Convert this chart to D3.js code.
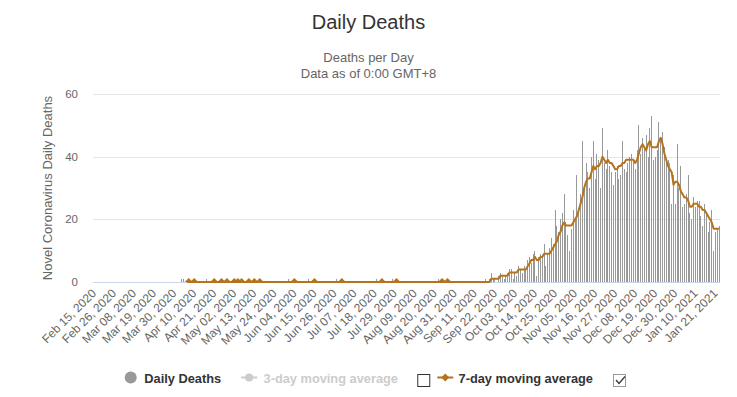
<!DOCTYPE html>
<html>
<head>
<meta charset="utf-8">
<script src="https://cdn.jsdelivr.net/npm/d3@7"></script>
<style>
  body { margin: 0; background: #fff; }
  svg { display: block; font-family: "Liberation Sans", Arial, sans-serif; }
</style>
</head>
<body>
<svg id="chart" width="737" height="397"></svg>
<script>
// ---- dati ----
const startDay = "2020-02-15";
const dayCount = 344;
const tickEvery = 11;
const tickLabels = [
  "Feb 15, 2020", "Feb 26, 2020", "Mar 08, 2020", "Mar 19, 2020", "Mar 30, 2020",
  "Apr 10, 2020", "Apr 21, 2020", "May 02, 2020", "May 13, 2020", "May 24, 2020",
  "Jun 04, 2020", "Jun 15, 2020", "Jun 26, 2020", "Jul 07, 2020", "Jul 18, 2020",
  "Jul 29, 2020", "Aug 09, 2020", "Aug 20, 2020", "Aug 31, 2020", "Sep 11, 2020",
  "Sep 22, 2020", "Oct 03, 2020", "Oct 14, 2020", "Oct 25, 2020", "Nov 05, 2020",
  "Nov 16, 2020", "Nov 27, 2020", "Dec 08, 2020", "Dec 19, 2020", "Dec 30, 2020",
  "Jan 10, 2021", "Jan 21, 2021"
];
const yTicks = [0, 20, 40, 60];

// primi mesi: solo giorni isolati con 1 decesso
const earlyDeaths = [
  ["2020-04-03", 1], ["2020-04-04", 1], ["2020-04-17", 1], ["2020-06-01", 1],
  ["2020-06-12", 1], ["2020-06-27", 1], ["2020-07-19", 1], ["2020-07-28", 1],
  ["2020-08-22", 1]
];

// media 7 giorni: parte da zero, punti con marker visibili
const avgLineStart = "2020-04-06";
const avgMarkerDays = [
  "2020-04-07", "2020-04-10", "2020-04-21", "2020-04-25", "2020-04-28", "2020-05-02",
  "2020-05-04", "2020-05-06", "2020-05-10", "2020-05-13", "2020-05-16", "2020-06-04",
  "2020-06-15", "2020-06-30", "2020-07-22", "2020-07-30", "2020-08-24", "2020-08-27"
];

// dal 15 settembre in poi, un valore al giorno
const lateStart = "2020-09-15";
const lateDeaths = [
  0, 0, 1, 0, 1, 3, 1, 1, 0, 2,
  3, 2, 1, 2, 3, 4, 4, 1, 3, 2,
  5, 4, 3, 5, 4, 7, 8, 6, 9, 10,
  2, 8, 9, 8, 12, 5, 9, 11, 14, 12,
  23, 18, 16, 20, 22, 28, 19, 15, 10, 17,
  23, 20, 34, 22, 28, 45, 30, 38, 35, 30,
  40, 45, 33, 41, 39, 30, 49, 38, 36, 42,
  37, 35, 31, 35, 37, 33, 34, 45, 36, 35,
  38, 40, 41, 39, 36, 42, 50, 41, 46, 43,
  47, 40, 49, 53, 39, 40, 42, 51, 46, 48,
  43, 38, 39, 38, 25, 34, 25, 44, 30, 37,
  24, 25, 28, 34, 22, 20, 27, 24, 26, 26,
  21, 18, 25, 22, 16, 19, 23, 10, 16, 17,
  18
];
const lateAvg7 = [
  0, 0, 0, 0, 0, 1, 1, 1, 1, 1,
  2, 2, 2, 2, 2, 3, 3, 3, 3, 3,
  4, 4, 4, 4, 4, 5, 6, 7, 7, 8,
  7, 7, 8, 8, 9, 9, 9, 9, 10, 11,
  12, 13, 15, 16, 18, 19, 18, 18, 18, 18,
  19, 20, 21, 23, 25, 27, 30, 32, 33, 33,
  35, 37, 36, 37, 37, 38, 40, 39, 38, 39,
  38, 38, 37, 36, 36, 37, 37, 38, 38, 39,
  39, 39, 39, 39, 38, 39, 41, 43, 44, 43,
  42, 44, 45, 43, 43, 43, 43, 45, 46, 44,
  41, 39, 37, 36, 35, 31, 32, 32, 31, 29,
  28, 27, 27, 26, 24, 24, 25, 25, 25, 24,
  24, 23, 23, 22, 21, 20, 19, 17, 17, 17,
  17
];

// ---- setup ----
const svg = d3.select("#chart");
const parseDay = d3.timeParse("%Y-%m-%d");
const day0 = parseDay(startDay);
const dayIndex = s => d3.timeDay.count(day0, parseDay(s));

const plot = { left: 93, right: 720, top: 94, bottom: 282 };
const x = d3.scaleBand().domain(d3.range(dayCount)).range([plot.left, plot.right]);
const cx = d => x(d) + x.bandwidth() / 2;
const y = d3.scaleLinear().domain([0, 60]).range([plot.bottom, plot.top]);

const lineColor = "#b5731c";
const barColor = "#999999";

const lateIdx = dayIndex(lateStart);
const bars = earlyDeaths.map(([s, v]) => ({ d: dayIndex(s), v }))
  .concat(lateDeaths.map((v, i) => ({ d: lateIdx + i, v })))
  .filter(b => b.v > 0);

const avgPoints = [{ d: dayIndex(avgLineStart), v: 0 }]
  .concat(avgMarkerDays.map(s => ({ d: dayIndex(s), v: 0, marker: true })))
  .concat(lateAvg7.map((v, i) => ({ d: lateIdx + i, v })))
  .sort((a, b) => a.d - b.d);

// titoli
svg.append("text").attr("x", 368.5).attr("y", 29).attr("text-anchor", "middle")
  .attr("font-size", 20).attr("fill", "#333").text("Daily Deaths");
svg.append("text").attr("x", 368.5).attr("y", 62).attr("text-anchor", "middle")
  .attr("font-size", 13).attr("fill", "#666").text("Deaths per Day");
svg.append("text").attr("x", 368.5).attr("y", 77.5).attr("text-anchor", "middle")
  .attr("font-size", 13).attr("fill", "#666").text("Data as of 0:00 GMT+8");

// griglia e asse y
svg.append("g").selectAll("line").data(yTicks.filter(t => t > 0)).join("line")
  .attr("x1", plot.left).attr("x2", plot.right)
  .attr("y1", d => Math.round(y(d)) + 0.5).attr("y2", d => Math.round(y(d)) + 0.5)
  .attr("stroke", "#e6e6e6");

svg.append("g").selectAll("text").data(yTicks).join("text")
  .attr("x", 78).attr("y", d => y(d) + 4).attr("text-anchor", "end")
  .attr("font-size", 11.5).attr("fill", "#666").text(d => d);

svg.append("text")
  .attr("transform", `translate(52, ${(plot.top + plot.bottom) / 2}) rotate(-90)`)
  .attr("text-anchor", "middle").attr("font-size", 13).attr("fill", "#666")
  .text("Novel Coronavirus Daily Deaths");

// asse x
svg.append("line").attr("x1", plot.left).attr("x2", plot.right)
  .attr("y1", plot.bottom + 0.5).attr("y2", plot.bottom + 0.5).attr("stroke", "#ccd6eb");

svg.append("g").selectAll("text").data(tickLabels).join("text")
  .attr("transform", (d, i) => `translate(${cx(i * tickEvery) + 3}, 294) rotate(-45)`)
  .attr("text-anchor", "end").attr("font-size", 12).attr("fill", "#666")
  .text(d => d);

// barre
svg.append("g").attr("shape-rendering", "crispEdges")
  .selectAll("rect").data(bars).join("rect")
  .attr("x", d => Math.round(cx(d.d) - 0.5))
  .attr("width", 1)
  .attr("y", d => y(d.v))
  .attr("height", d => plot.bottom - y(d.v))
  .attr("fill", barColor);

// clip per i marker
svg.append("clipPath").attr("id", "plotClip").append("rect")
  .attr("x", plot.left - 5).attr("y", plot.top - 5)
  .attr("width", plot.right - plot.left + 10).attr("height", plot.bottom - plot.top + 5);

const line = d3.line().x(d => cx(d.d)).y(d => y(d.v));
svg.append("path").datum(avgPoints)
  .attr("d", line).attr("fill", "none")
  .attr("stroke", lineColor).attr("stroke-width", 2).attr("stroke-linejoin", "round");

const diamond = (px, py, r) => `M${px},${py - r}L${px + r},${py}L${px},${py + r}L${px - r},${py}Z`;
svg.append("g").attr("clip-path", "url(#plotClip)")
  .selectAll("path").data(avgPoints.filter(p => p.marker)).join("path")
  .attr("d", p => diamond(cx(p.d), y(p.v), 4))
  .attr("fill", lineColor);

// legenda
const legendY = 377.5;
const legendBase = 382.5;
const lg = svg.append("g").attr("font-size", 12.8).attr("font-weight", "bold");
let lx = 124.7;

lg.append("circle").attr("cx", lx + 6).attr("cy", legendY).attr("r", 6).attr("fill", barColor);
let t = lg.append("text").attr("x", lx + 19.6).attr("y", legendBase).attr("fill", "#333").text("Daily Deaths");
lx = lx + 19.6 + t.node().getComputedTextLength() + 20;

lg.append("line").attr("x1", lx).attr("x2", lx + 16).attr("y1", legendY).attr("y2", legendY)
  .attr("stroke", "#cccccc").attr("stroke-width", 2);
lg.append("circle").attr("cx", lx + 8).attr("cy", legendY).attr("r", 4).attr("fill", "#cccccc");
t = lg.append("text").attr("x", lx + 22.4).attr("y", legendBase).attr("fill", "#cccccc").text("3-day moving average");
lx = lx + 22.4 + t.node().getComputedTextLength() + 19.3;

lg.append("rect").attr("x", lx + 0.5).attr("y", 374.5).attr("width", 12).attr("height", 12)
  .attr("fill", "#fff").attr("stroke", "#333");
lx = lx + 20;

lg.append("line").attr("x1", lx).attr("x2", lx + 16).attr("y1", legendY).attr("y2", legendY)
  .attr("stroke", lineColor).attr("stroke-width", 2);
lg.append("path").attr("d", diamond(lx + 8, legendY, 4)).attr("fill", lineColor);
t = lg.append("text").attr("x", lx + 21.3).attr("y", legendBase).attr("fill", "#333").text("7-day moving average");
lx = lx + 21.3 + t.node().getComputedTextLength() + 20;

lg.append("rect").attr("x", lx + 0.5).attr("y", 374.5).attr("width", 12).attr("height", 12)
  .attr("fill", "#fff").attr("stroke", "#333").attr("stroke-dasharray", "1,1");
lg.append("path").attr("d", `M${lx + 3},${380} l3,3.5 l6,-7`)
  .attr("fill", "none").attr("stroke", "#333").attr("stroke-width", 1.2);
</script>
</body>
</html>
